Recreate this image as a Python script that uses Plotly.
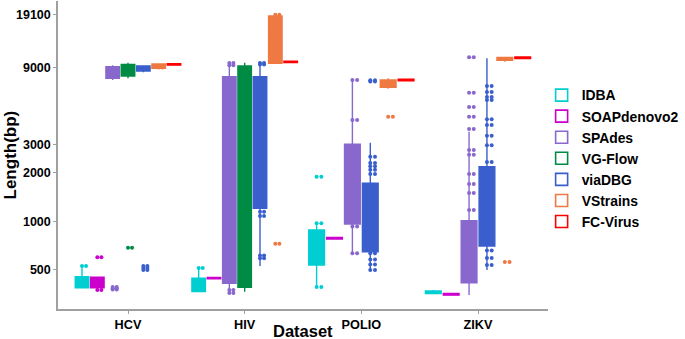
import plotly.graph_objects as go

# ---------------- data ----------------
datasets = ["HCV", "HIV", "POLIO", "ZIKV"]
methods = ["IDBA", "SOAPdenovo2", "SPAdes", "VG-Flow", "viaDBG", "VStrains", "FC-Virus"]

# five-number summaries per dataset: [lower whisker, q1, median, q3, upper whisker]
IDBA_stats = [[385, 388, 420, 454, 530], [367, 367, 400, 444, 512],
              [394, 537, 700, 885, 973], [355, 357, 363, 370, 375]]
SOAP_stats = [[380, 388, 420, 451, 451], [440, 440, 445, 450, 450],
              [778, 778, 786, 795, 795], [349, 349, 353, 357, 357]]
SPAdes_stats = [[7530, 7700, 8400, 9093, 9300], [359, 414, 2000, 7880, 9680],
                [635, 964, 1700, 3004, 7519], [350, 417, 650, 1010, 3600]]
VGFlow_stats = [[7720, 7962, 8700, 9406, 9630], [367, 391, 3000, 9182, 9630],
                None, None]
viaDBG_stats = [[8400, 8550, 8900, 9180, 9300], [530, 1206, 4000, 7880, 9700],
                [500, 649, 1100, 1722, 3074], [500, 704, 1300, 2183, 10245]]
VStrains_stats = [[8800, 8887, 9200, 9447, 9500], [9543, 9543, 15000, 18740, 19100],
                  [6630, 6775, 7200, 7519, 7700], [9750, 9950, 10200, 10390, 10450]]
FCVirus_stats = [[9300, 9300, 9406, 9500, 9500], [9650, 9650, 9750, 9850, 9850],
                 [7440, 7440, 7519, 7600, 7600], [10220, 10220, 10330, 10440, 10440]]

# individual visible points (outliers / jittered observations)
IDBA_points = [[530], [515], [1893, 973, 392], []]
SOAP_points = [[600, 376], [], [], []]
SPAdes_points = [[378, 385, 392], [9600, 9300, 375, 360], [7519, 4250, 930, 635],
                 [10390, 6273, 5118, 4455, 3733, 2770, 2590, 1967, 1706, 1500, 1177]]
VGFlow_points = [[687], [], [], []]
viaDBG_points = [[530, 515, 500], [9600, 9400, 1148, 1080, 615, 590],
                 [7500, 7350, 2518, 2300, 2200, 2090, 1970, 635, 580, 540, 500],
                 [6900, 6335, 5900, 5660, 4293, 3958, 3400, 2960, 2335, 660, 594, 537]]
VStrains_points = [[9200, 9000], [19100, 728], [4455], [560]]
FCVirus_points = [[], [], [], []]

y_tickvals = [500, 1000, 2000, 3000, 9000, 19100]
y_ticktext = ["500", "1000", "2000", "3000", "9000", "19100"]

stats = [IDBA_stats, SOAP_stats, SPAdes_stats, VGFlow_stats, viaDBG_stats, VStrains_stats, FCVirus_stats]
points = [IDBA_points, SOAP_points, SPAdes_points, VGFlow_points, viaDBG_points, VStrains_points, FCVirus_points]
colors = ["#00CED1", "#CC00CC", "#8968CD", "#008B45", "#3A5FCD", "#EE7942", "#FF0000"]

FONT = "Liberation Sans, Arial, sans-serif"
DODGE = 0.92
BOXFRAC = 0.88

fig = go.Figure()

for di, ds in enumerate(datasets):
    present = [mi for mi in range(len(methods)) if stats[mi][di] is not None]
    n = len(present)
    slot = DODGE / n
    for k, mi in enumerate(present):
        xc = (di + 1) - DODGE / 2 + slot * (k + 0.5)
        lo, q1, med, q3, hi = stats[mi][di]
        c = colors[mi]
        w = slot * BOXFRAC
        fig.add_trace(go.Box(
            x=[xc], q1=[q1], median=[med], q3=[q3], lowerfence=[lo], upperfence=[hi],
            width=w, fillcolor=c, line=dict(color=c, width=1.4), whiskerwidth=0,
            boxpoints=False, showlegend=False, legendgroup=methods[mi],
            name=methods[mi], hoverinfo="skip"))
        pts = points[mi][di]
        if pts:
            xs = [xc] * len(pts) + [xc + w * 0.3] * len(pts)
            fig.add_trace(go.Scatter(
                x=xs, y=pts + pts, mode="markers",
                marker=dict(color=c, size=4, line=dict(width=0)),
                showlegend=False, legendgroup=methods[mi], hoverinfo="skip"))

# legend entries (hollow boxes like ggplot keys)
for mi, m in enumerate(methods):
    fig.add_trace(go.Box(
        y=[None], name=m, fillcolor="white", line=dict(color=colors[mi], width=1.6),
        legendgroup=m, showlegend=True, boxpoints=False))

fig.update_layout(
    width=685, height=339,
    margin=dict(l=58, r=132, t=1, b=30),
    paper_bgcolor="white", plot_bgcolor="white",
    boxmode="overlay",
    font=dict(family=FONT, color="black"),
    legend=dict(x=0.987, y=0.745, xanchor="left", yanchor="top",
                font=dict(family=FONT, size=13.9, color="black", weight="bold"),
                bgcolor="rgba(0,0,0,0)", tracegroupgap=0),
    showlegend=True,
    annotations=[
        dict(text="Dataset", xref="paper", yref="paper", x=0.5, y=-0.071,
             xanchor="center", yanchor="middle", showarrow=False,
             font=dict(family=FONT, size=16.5, color="black", weight="bold")),
        dict(text="Length(bp)", xref="paper", yref="paper", x=-0.097, y=0.5,
             xanchor="center", yanchor="middle", showarrow=False, textangle=-90,
             font=dict(family=FONT, size=17, color="black", weight="bold")),
    ],
)
fig.update_xaxes(
    range=[0.4, 4.6], tickmode="array", tickvals=[1, 2, 3, 4], ticktext=datasets,
    showline=True, linecolor="#A0A0A0", linewidth=1.5, showgrid=False, zeroline=False,
    ticks="outside", ticklen=3, tickcolor="#A0A0A0", automargin=False,
    tickfont=dict(family=FONT, size=12.7, color="black", weight="bold"),
)
fig.update_yaxes(
    type="log", range=[2.457, 4.366], tickmode="array", tickvals=y_tickvals, ticktext=y_ticktext,
    showline=True, linecolor="#A0A0A0", linewidth=1.5, showgrid=False, zeroline=False,
    ticks="outside", ticklen=3, tickcolor="#A0A0A0", automargin=False,
    tickfont=dict(family=FONT, size=12.5, color="black", weight="bold"),
)

fig.write_html("out.html", config={"displayModeBar": False},
               post_script="document.body.style.margin='0';document.body.style.overflow='hidden';")
